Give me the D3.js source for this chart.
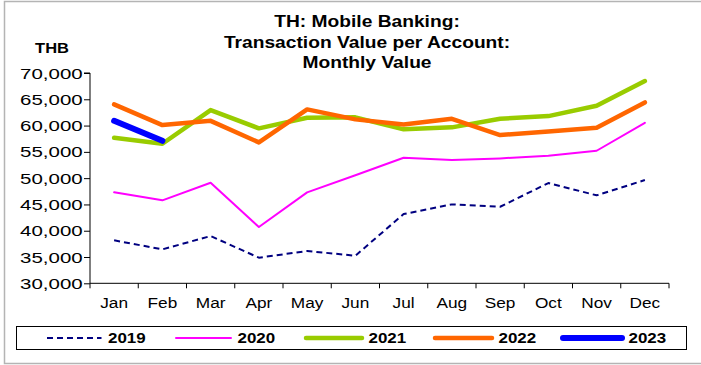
<!DOCTYPE html>
<html>
<head>
<meta charset="utf-8">
<script src="https://cdn.jsdelivr.net/npm/d3@7"></script>
<style>
  html, body { margin: 0; padding: 0; background: #fff; }
  svg { display: block; font-family: Arial, "Liberation Sans", sans-serif; }
</style>
</head>
<body>
<svg id="chart" width="701" height="365"></svg>
<script>
// Monthly transaction value per mobile banking account (THB)
const months = ["Jan", "Feb", "Mar", "Apr", "May", "Jun", "Jul", "Aug", "Sep", "Oct", "Nov", "Dec"];
const yTicks = [30000, 35000, 40000, 45000, 50000, 55000, 60000, 65000, 70000];

const v2019 = [38170, 36460, 38990, 34870, 36140, 35250, 43170, 45010, 44560, 49070, 46730, 49640];
const v2020 = [47300, 45780, 49120, 40700, 47300, 50550, 53880, 53440, 53760, 54260, 55210, 60530];
const v2021 = [57680, 56540, 62940, 59470, 61480, 61560, 59280, 59660, 61290, 61800, 63760, 68460];
const v2022 = [64030, 60090, 60900, 56800, 63080, 61180, 60220, 61290, 58190, 58890, 59580, 64410];
const v2023 = [60900, 57100];

const seriesNames = ["2019", "2020", "2021", "2022", "2023"];
const seriesValues = [v2019, v2020, v2021, v2022, v2023];

const styles = {
  "2019": { color: "#000080", width: 2, dash: "6,4" },
  "2020": { color: "#FF00FF", width: 2, dash: null },
  "2021": { color: "#99CC00", width: 4.5, dash: null },
  "2022": { color: "#FF6600", width: 4.5, dash: null },
  "2023": { color: "#0000FF", width: 6, dash: null }
};

const svg = d3.select("#chart");

// text with a slight horizontal stretch
function wideText(parent, x, y, str, opts) {
  const g = parent.append("g")
    .attr("transform", `translate(${x},${y}) scale(${opts.sx || 1},1)`);
  g.append("text")
    .attr("text-anchor", opts.anchor || "start")
    .attr("font-size", opts.size)
    .attr("font-weight", opts.bold ? "bold" : "normal")
    .attr("fill", "#000")
    .text(str);
  return g;
}

// outer frame
svg.append("path")
  .attr("d", "M701,1.5 H4.5 V363.5 H701")
  .attr("fill", "none")
  .attr("stroke", "#b4b4b4")
  .attr("stroke-width", 1.5);

const plot = { left: 90, right: 669, top: 73, bottom: 283.3 };

const x = d3.scaleBand().domain(months).range([plot.left, plot.right]);
const y = d3.scaleLinear().domain([30000, 70000]).range([plot.bottom, plot.top]);

// title
["TH: Mobile Banking:", "Transaction Value per Account:", "Monthly Value"].forEach((t, i) => {
  wideText(svg, 367, 27.3 + i * 20.5, t, { size: 17, bold: true, sx: 1.13, anchor: "middle" });
});

wideText(svg, 52, 53.3, "THB", { size: 15, bold: true, sx: 1.1, anchor: "middle" });

// y axis
const yAxis = svg.append("g")
  .attr("transform", `translate(${plot.left},0)`)
  .call(d3.axisLeft(y).tickValues(yTicks).tickSize(6).tickFormat(""));
yAxis.select(".domain").attr("d", `M-6,${plot.top}H0V${plot.bottom}`);
yAxis.selectAll("line, path").attr("stroke", "#000");
const fmt = d3.format(",");
yTicks.forEach(v => {
  wideText(svg, 82.7, y(v) + 5.6, fmt(v), { size: 15.4, sx: 1.33, anchor: "end" });
});

// x axis with ticks at category boundaries
const xAxis = svg.append("g").attr("transform", `translate(0,${plot.bottom})`);
xAxis.append("line")
  .attr("x1", plot.left).attr("x2", plot.right)
  .attr("y1", 0).attr("y2", 0).attr("stroke", "#000");
const bounds = months.map(m => x(m)).concat([plot.right]);
xAxis.selectAll("line.tick").data(bounds).join("line")
  .attr("class", "tick")
  .attr("x1", d => d).attr("x2", d => d)
  .attr("y1", 0).attr("y2", 5).attr("stroke", "#000");
months.forEach(m => {
  wideText(svg, x(m) + x.bandwidth() / 2, 308.3, m, { size: 15.4, sx: 1.12, anchor: "middle" });
});

// series lines
const line = d3.line()
  .x((d, i) => x(months[i]) + x.bandwidth() / 2)
  .y(d => y(d));

seriesNames.forEach((name, k) => {
  const s = styles[name];
  svg.append("path")
    .datum(seriesValues[k])
    .attr("fill", "none")
    .attr("stroke", s.color)
    .attr("stroke-width", s.width)
    .attr("stroke-linejoin", "round")
    .attr("stroke-linecap", s.dash ? "butt" : "round")
    .attr("stroke-dasharray", s.dash)
    .attr("d", line);
});

// legend
svg.append("rect")
  .attr("x", 16.5).attr("y", 326.5).attr("width", 670).attr("height", 23)
  .attr("fill", "#fff").attr("stroke", "#000").attr("stroke-width", 1);

const legendLines = [[47, 101.5], [176, 231], [306, 362], [435, 492], [563, 622]];
seriesNames.forEach((name, k) => {
  const s = styles[name];
  const [a, b] = legendLines[k];
  svg.append("line")
    .attr("x1", a).attr("x2", b).attr("y1", 338).attr("y2", 338)
    .attr("stroke", s.color).attr("stroke-width", s.width)
    .attr("stroke-linecap", s.dash ? "butt" : "round")
    .attr("stroke-dasharray", s.dash);
  wideText(svg, b + 6.5, 342.8, name, { size: 15.4, bold: true, sx: 1.1 });
});
</script>
</body>
</html>
